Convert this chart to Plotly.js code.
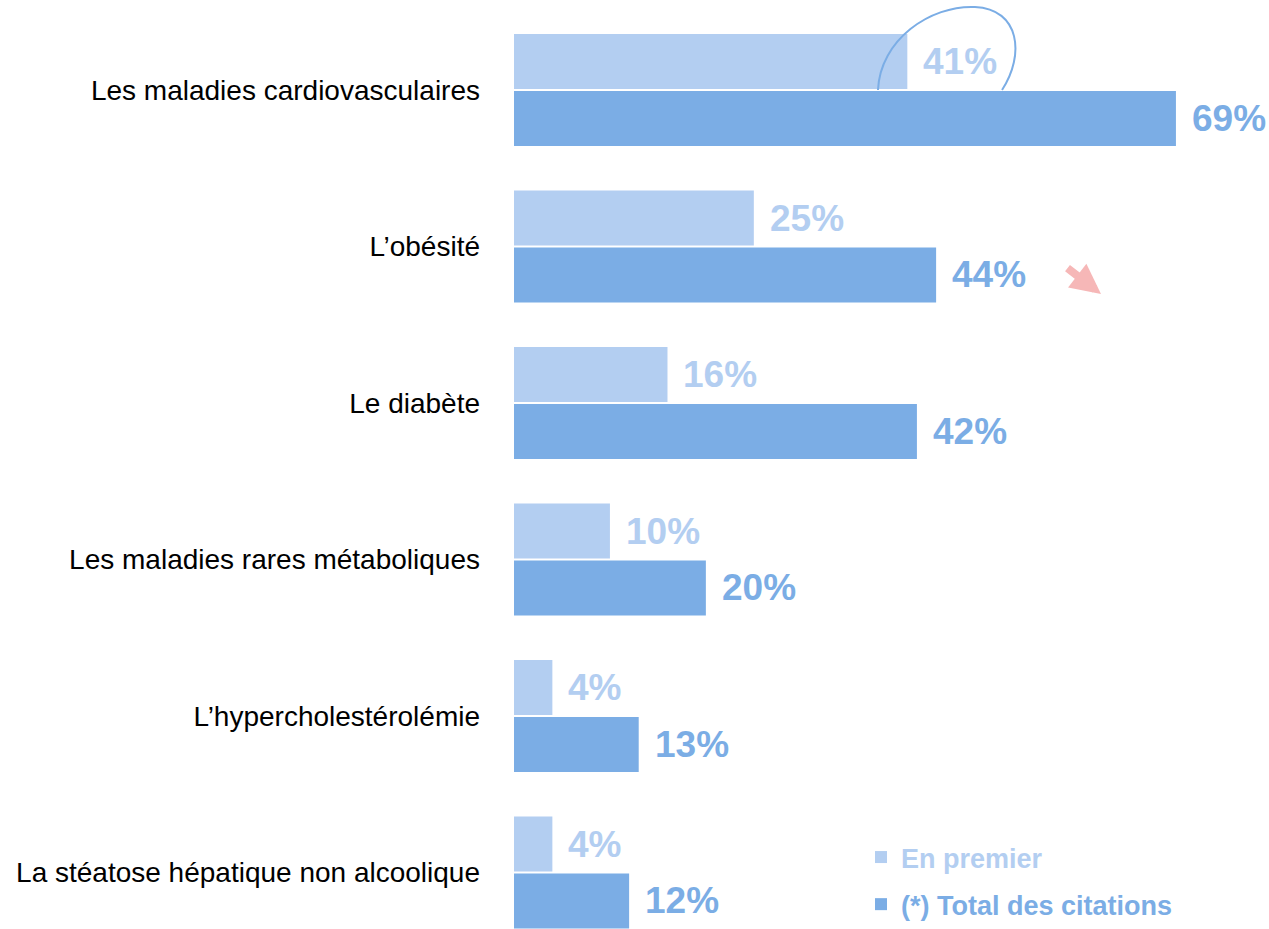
<!DOCTYPE html>
<html>
<head>
<meta charset="utf-8">
<script src="https://cdn.plot.ly/plotly-3.0.1.min.js"></script>
<style>html,body{margin:0;padding:0;background:#fff;}#chart{width:1269px;height:929px;}</style>
</head>
<body>
<div id="chart"></div>
<script>
const categories = [
  "Les maladies cardiovasculaires",
  "L’obésité",
  "Le diabète",
  "Les maladies rares métaboliques",
  "L’hypercholestérolémie",
  "La stéatose hépatique non alcoolique"
];
const enPremier = [41, 25, 16, 10, 4, 4];
const totalCitations = [69, 44, 42, 20, 13, 12];
const seriesNames = ["En premier", "(*) Total des citations"];

const lightColor = "#B3CEF1";
const darkColor = "#7BADE5";
const W = 1269, H = 929, L = 514;
const FONT = "Liberation Sans, Arial, sans-serif";

function px(x) { return (x - L) / (W - L); }
function py(y) { return 1 - y / H; }

const traces = [
  {
    type: "bar", orientation: "h", x: enPremier, y: categories,
    name: '<span style="color:' + lightColor + '">' + seriesNames[0] + '</span>',
    marker: {color: lightColor}, hoverinfo: "skip", legendgroup: "a"
  },
  {
    type: "bar", orientation: "h", x: totalCitations, y: categories,
    name: '<span style="color:' + darkColor + '">' + seriesNames[1] + '</span>',
    marker: {color: darkColor}, hoverinfo: "skip", legendgroup: "b"
  }
];

const off = 0.182;
const annotations = [];
categories.forEach((c, i) => {
  annotations.push({
    x: enPremier[i], y: i - off, xref: "x", yref: "y",
    text: "<b>" + enPremier[i] + "%</b>", showarrow: false,
    xanchor: "left", xshift: 14,
    font: {family: FONT, size: 37, color: lightColor}
  });
  annotations.push({
    x: totalCitations[i], y: i + off, xref: "x", yref: "y",
    text: "<b>" + totalCitations[i] + "%</b>", showarrow: false,
    xanchor: "left", xshift: 14,
    font: {family: FONT, size: 37, color: darkColor}
  });
});
// pink arrow
annotations.push({
  xref: "paper", yref: "paper", x: px(1101), y: py(294),
  ax: -35, ay: -27, axref: "pixel", ayref: "pixel",
  text: "", showarrow: true, arrowhead: 2, arrowsize: 0.75, arrowwidth: 8,
  arrowcolor: "#F6B7B7"
});

function P(x, y) { return px(x).toFixed(4) + "," + py(y).toFixed(4); }
const ellipsePath = "M" + P(878, 90) + " C" + P(880, 40) + " " + P(930, 5) + " " + P(975, 7) +
  " C" + P(1020, 9) + " " + P(1025, 55) + " " + P(1002, 90);

const layout = {
  width: W, height: H,
  margin: {l: L, r: 0, t: 0, b: 0, pad: 0, autoexpand: false},
  paper_bgcolor: "#fff", plot_bgcolor: "#fff",
  barmode: "group", bargap: 0.272, bargroupgap: 0.035,
  xaxis: {range: [0, 78.7], visible: false, fixedrange: true},
  yaxis: {
    type: "category", categoryarray: categories, range: [5.361, -0.575],
    showgrid: false, zeroline: false, showline: false, ticks: "",
    ticklabelstandoff: 33,
    tickfont: {family: FONT, size: 28, color: "#000"}
  },
  showlegend: true,
  legend: {
    x: px(861), y: 0, xanchor: "left", yanchor: "bottom",
    font: {family: FONT, size: 27, weight: "bold"},
    traceorder: "grouped", tracegroupgap: 9,
    bgcolor: "rgba(0,0,0,0)"
  },
  annotations: annotations,
  shapes: [{
    type: "path", xref: "paper", yref: "paper", path: ellipsePath,
    line: {color: darkColor, width: 2}, fillcolor: "rgba(0,0,0,0)", layer: "above"
  }]
};

Plotly.newPlot("chart", traces, layout, {displayModeBar: false, staticPlot: true});
</script>
</body>
</html>
